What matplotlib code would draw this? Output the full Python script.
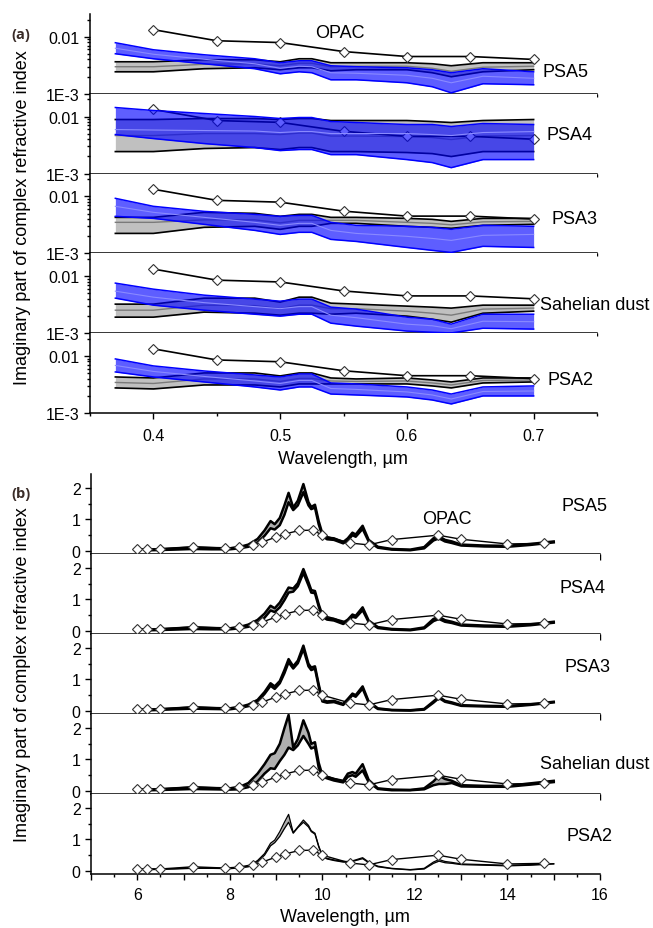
"""Imaginary part of the complex refractive index: visible (a) and thermal IR (b)."""

import matplotlib
matplotlib.use("Agg")
import matplotlib.pyplot as plt
from matplotlib.ticker import MultipleLocator, LogLocator, FuncFormatter, NullFormatter

plt.rcParams["font.family"] = ["Liberation Sans", "DejaVu Sans"]

SAMPLES = ["PSA5", "PSA4", "PSA3", "Sahelian dust", "PSA2"]

# ---- panel (a): visible range -------------------------------------------
WL_A = [0.37, 0.40, 0.44, 0.48, 0.50, 0.515, 0.525, 0.54, 0.56, 0.60, 0.62, 0.635, 0.66, 0.70]
OPAC_WL_A = [0.40, 0.45, 0.50, 0.55, 0.60, 0.65, 0.70]
OPAC_K_A = [0.0133, 0.0085, 0.0079, 0.0055, 0.0045, 0.0045, 0.0040]

PSA5_GRAY_HI = [0.00364, 0.00364, 0.00395, 0.00395, 0.00364, 0.00411, 0.00411, 0.00350, 0.00350, 0.00350, 0.00336, 0.00310, 0.00350, 0.00350]
PSA5_GRAY_MID = [0.00298, 0.00298, 0.00329, 0.00336, 0.00310, 0.00343, 0.00343, 0.00298, 0.00304, 0.00304, 0.00280, 0.00248, 0.00292, 0.00304]
PSA5_GRAY_LO = [0.00243, 0.00243, 0.00275, 0.00286, 0.00264, 0.00286, 0.00286, 0.00253, 0.00264, 0.00264, 0.00234, 0.00199, 0.00243, 0.00264]
PSA5_BLUE_HI = [0.00785, 0.00591, 0.00483, 0.00411, 0.00350, 0.00379, 0.00379, 0.00310, 0.00298, 0.00286, 0.00264, 0.00234, 0.00275, 0.00243]
PSA5_BLUE_MID = [0.00628, 0.00493, 0.00403, 0.00336, 0.00280, 0.00304, 0.00298, 0.00234, 0.00229, 0.00211, 0.00187, 0.00156, 0.00203, 0.00187]
PSA5_BLUE_LO = [0.00503, 0.00411, 0.00336, 0.00275, 0.00224, 0.00243, 0.00234, 0.00176, 0.00176, 0.00156, 0.00133, 0.00104, 0.00150, 0.00144]

PSA4_GRAY_HI = [0.00886, 0.00886, 0.00922, 0.00922, 0.00886, 0.00922, 0.00922, 0.00851, 0.00851, 0.00851, 0.00817, 0.00785, 0.00851, 0.00886]
PSA4_GRAY_MID = [0.00464, 0.00464, 0.00503, 0.00503, 0.00483, 0.00513, 0.00513, 0.00455, 0.00455, 0.00446, 0.00428, 0.00395, 0.00455, 0.00464]
PSA4_GRAY_LO = [0.00243, 0.00243, 0.00275, 0.00286, 0.00264, 0.00286, 0.00286, 0.00243, 0.00243, 0.00234, 0.00224, 0.00199, 0.00243, 0.00243]
PSA4_BLUE_HI = [0.01438, 0.01274, 0.01129, 0.01000, 0.00922, 0.00960, 0.00960, 0.00817, 0.00785, 0.00724, 0.00724, 0.00668, 0.00754, 0.00724]
PSA4_BLUE_MID = [0.00591, 0.00580, 0.00568, 0.00557, 0.00524, 0.00545, 0.00545, 0.00503, 0.00503, 0.00503, 0.00483, 0.00464, 0.00524, 0.00545]
PSA4_BLUE_LO = [0.00483, 0.00411, 0.00336, 0.00286, 0.00253, 0.00264, 0.00264, 0.00215, 0.00215, 0.00176, 0.00156, 0.00127, 0.00176, 0.00176]

PSA3_GRAY_HI = [0.00428, 0.00428, 0.00524, 0.00503, 0.00446, 0.00483, 0.00483, 0.00428, 0.00428, 0.00411, 0.00395, 0.00364, 0.00411, 0.00411]
PSA3_GRAY_MID = [0.00350, 0.00350, 0.00387, 0.00387, 0.00343, 0.00379, 0.00379, 0.00379, 0.00379, 0.00350, 0.00336, 0.00316, 0.00357, 0.00364]
PSA3_GRAY_LO = [0.00224, 0.00224, 0.00286, 0.00298, 0.00264, 0.00298, 0.00298, 0.00336, 0.00336, 0.00298, 0.00286, 0.00275, 0.00310, 0.00323]
PSA3_BLUE_HI = [0.00922, 0.00668, 0.00545, 0.00483, 0.00446, 0.00464, 0.00464, 0.00350, 0.00310, 0.00298, 0.00286, 0.00264, 0.00310, 0.00298]
PSA3_BLUE_MID = [0.00668, 0.00524, 0.00428, 0.00350, 0.00310, 0.00336, 0.00336, 0.00253, 0.00224, 0.00199, 0.00183, 0.00169, 0.00207, 0.00215]
PSA3_BLUE_LO = [0.00446, 0.00411, 0.00323, 0.00253, 0.00215, 0.00234, 0.00234, 0.00176, 0.00162, 0.00127, 0.00113, 0.00104, 0.00133, 0.00127]

SAHEL_GRAY_HI = [0.00323, 0.00323, 0.00411, 0.00411, 0.00350, 0.00428, 0.00428, 0.00336, 0.00323, 0.00298, 0.00286, 0.00275, 0.00310, 0.00310]
SAHEL_GRAY_MID = [0.00253, 0.00253, 0.00310, 0.00304, 0.00269, 0.00310, 0.00310, 0.00269, 0.00269, 0.00243, 0.00224, 0.00207, 0.00264, 0.00275]
SAHEL_GRAY_LO = [0.00191, 0.00191, 0.00234, 0.00224, 0.00207, 0.00224, 0.00224, 0.00215, 0.00224, 0.00199, 0.00176, 0.00156, 0.00224, 0.00243]
SAHEL_BLUE_HI = [0.00754, 0.00591, 0.00464, 0.00395, 0.00364, 0.00395, 0.00395, 0.00286, 0.00264, 0.00191, 0.00176, 0.00144, 0.00215, 0.00215]
SAHEL_BLUE_MID = [0.00545, 0.00428, 0.00343, 0.00292, 0.00269, 0.00292, 0.00292, 0.00207, 0.00187, 0.00144, 0.00135, 0.00120, 0.00162, 0.00159]
SAHEL_BLUE_LO = [0.00411, 0.00310, 0.00253, 0.00215, 0.00199, 0.00215, 0.00215, 0.00150, 0.00133, 0.00109, 0.00104, 0.00101, 0.00122, 0.00118]

PSA2_GRAY_HI = [0.00428, 0.00411, 0.00503, 0.00503, 0.00446, 0.00503, 0.00503, 0.00411, 0.00395, 0.00411, 0.00379, 0.00350, 0.00411, 0.00411]
PSA2_GRAY_MID = [0.00343, 0.00329, 0.00395, 0.00395, 0.00357, 0.00403, 0.00403, 0.00364, 0.00357, 0.00364, 0.00336, 0.00310, 0.00372, 0.00379]
PSA2_GRAY_LO = [0.00275, 0.00264, 0.00310, 0.00310, 0.00286, 0.00323, 0.00323, 0.00323, 0.00323, 0.00323, 0.00298, 0.00275, 0.00336, 0.00350]
PSA2_BLUE_HI = [0.00886, 0.00668, 0.00545, 0.00464, 0.00428, 0.00483, 0.00483, 0.00336, 0.00323, 0.00286, 0.00253, 0.00215, 0.00286, 0.00298]
PSA2_BLUE_MID = [0.00681, 0.00535, 0.00437, 0.00364, 0.00329, 0.00372, 0.00372, 0.00269, 0.00259, 0.00234, 0.00207, 0.00176, 0.00238, 0.00243]
PSA2_BLUE_LO = [0.00524, 0.00428, 0.00350, 0.00286, 0.00253, 0.00286, 0.00286, 0.00215, 0.00207, 0.00191, 0.00169, 0.00144, 0.00199, 0.00199]

# ---- panel (b): thermal infrared ---------------------------------------
WL_B = [6.3, 6.8, 7.2, 7.6, 8.0, 8.2, 8.4, 8.6, 8.75, 8.88, 8.97, 9.08, 9.18, 9.27, 9.37,
        9.47, 9.59, 9.70, 9.76, 9.84, 9.92, 10.0, 10.1, 10.25, 10.45, 10.55, 10.65, 10.72,
        10.87, 11.0, 11.2, 11.5, 11.9, 12.2, 12.4, 12.52, 12.65, 12.8, 13.0, 13.5, 14.0, 14.5, 15.0]
OPAC_WL_B = [6.0, 6.2, 6.5, 7.2, 7.9, 8.2, 8.5, 8.7, 9.0, 9.2, 9.5, 9.8, 10.0, 10.6, 11.0,
             11.5, 12.5, 13.0, 14.0, 14.8]
OPAC_K_B = [0.06, 0.07, 0.06, 0.13, 0.09, 0.12, 0.20, 0.28, 0.44, 0.54, 0.65, 0.66, 0.50, 0.25,
            0.19, 0.36, 0.50, 0.37, 0.22, 0.24]

PSA5_HI_B = [0.04, 0.08, 0.11, 0.09, 0.08, 0.12, 0.20, 0.38, 0.65, 0.95, 0.85, 1.05, 1.45, 1.85, 1.38,
             1.60, 2.13, 1.55, 1.40, 1.47, 0.95, 0.55, 0.42, 0.40, 0.28, 0.40, 0.58, 0.52,
             0.80, 0.35, 0.13, 0.06, 0.04, 0.12, 0.40, 0.47, 0.35, 0.30, 0.20, 0.17, 0.16, 0.22, 0.30]
PSA5_LO_B = [0.02, 0.04, 0.06, 0.05, 0.05, 0.08, 0.13, 0.27, 0.48, 0.72, 0.68, 0.82, 1.15, 1.55, 1.30,
             1.45, 1.87, 1.45, 1.33, 1.38, 0.85, 0.48, 0.37, 0.35, 0.24, 0.34, 0.50, 0.45,
             0.70, 0.30, 0.10, 0.04, 0.02, 0.08, 0.33, 0.40, 0.30, 0.25, 0.17, 0.14, 0.13, 0.19, 0.27]
PSA4_HI_B = [0.04, 0.08, 0.11, 0.09, 0.08, 0.12, 0.20, 0.35, 0.55, 0.80, 0.72, 0.90, 1.15, 1.38, 1.35,
             1.52, 1.97, 1.55, 1.30, 1.27, 0.85, 0.50, 0.40, 0.38, 0.26, 0.36, 0.52, 0.48,
             0.75, 0.33, 0.12, 0.06, 0.04, 0.11, 0.38, 0.45, 0.34, 0.29, 0.20, 0.17, 0.16, 0.21, 0.29]
PSA4_LO_B = [0.02, 0.04, 0.06, 0.05, 0.05, 0.08, 0.13, 0.25, 0.42, 0.65, 0.60, 0.75, 0.98, 1.22, 1.25,
             1.42, 1.85, 1.45, 1.22, 1.20, 0.78, 0.45, 0.36, 0.33, 0.22, 0.31, 0.45, 0.42,
             0.66, 0.28, 0.09, 0.04, 0.02, 0.08, 0.31, 0.38, 0.29, 0.25, 0.17, 0.14, 0.13, 0.18, 0.26]
PSA3_HI_B = [0.04, 0.08, 0.11, 0.09, 0.08, 0.12, 0.20, 0.35, 0.60, 0.88, 0.78, 0.95, 1.30, 1.65, 1.42,
             1.60, 2.08, 1.50, 1.38, 1.42, 0.85, 0.35, 0.30, 0.32, 0.22, 0.38, 0.55, 0.50,
             0.78, 0.30, 0.08, 0.03, 0.02, 0.06, 0.30, 0.45, 0.32, 0.27, 0.18, 0.16, 0.15, 0.21, 0.29]
PSA3_LO_B = [0.02, 0.05, 0.07, 0.06, 0.05, 0.09, 0.15, 0.30, 0.54, 0.80, 0.70, 0.88, 1.20, 1.55, 1.35,
             1.52, 1.97, 1.42, 1.30, 1.35, 0.78, 0.30, 0.26, 0.28, 0.19, 0.34, 0.50, 0.45,
             0.71, 0.26, 0.06, 0.02, 0.01, 0.04, 0.26, 0.41, 0.29, 0.24, 0.16, 0.14, 0.13, 0.19, 0.27]
SAHEL_HI_B = [0.04, 0.08, 0.11, 0.09, 0.08, 0.12, 0.25, 0.55, 0.85, 1.15, 1.20, 1.50, 2.00, 2.42, 1.38,
              1.65, 2.25, 1.85, 1.50, 1.55, 0.90, 0.50, 0.45, 0.38, 0.32, 0.55, 0.60, 0.55,
              0.85, 0.35, 0.08, 0.04, 0.03, 0.08, 0.30, 0.48, 0.38, 0.32, 0.18, 0.16, 0.16, 0.24, 0.32]
SAHEL_LO_B = [0.02, 0.04, 0.06, 0.05, 0.04, 0.05, 0.12, 0.30, 0.55, 0.72, 0.70, 0.95, 1.15, 1.38, 1.30,
              1.45, 1.75, 1.50, 1.35, 1.40, 0.75, 0.45, 0.40, 0.33, 0.27, 0.45, 0.50, 0.45,
              0.65, 0.28, 0.06, 0.02, 0.02, 0.05, 0.18, 0.22, 0.22, 0.25, 0.14, 0.13, 0.13, 0.20, 0.28]
PSA2_HI_B = [0.05, 0.07, 0.10, 0.09, 0.08, 0.10, 0.15, 0.33, 0.55, 0.88, 0.98, 1.25, 1.55, 1.80, 1.22,
             1.40, 1.62, 1.45, 1.28, 1.20, 0.80, 0.48, 0.40, 0.35, 0.30, 0.30, 0.32, 0.35,
             0.42, 0.28, 0.15, 0.08, 0.04, 0.08, 0.28, 0.36, 0.30, 0.27, 0.22, 0.20, 0.18, 0.20, 0.23]
PSA2_LO_B = [0.04, 0.06, 0.08, 0.08, 0.07, 0.09, 0.13, 0.30, 0.50, 0.80, 0.90, 1.10, 1.35, 1.55, 1.20,
             1.38, 1.55, 1.40, 1.25, 1.17, 0.77, 0.46, 0.38, 0.33, 0.28, 0.28, 0.30, 0.33,
             0.39, 0.26, 0.13, 0.07, 0.03, 0.06, 0.24, 0.31, 0.26, 0.24, 0.20, 0.18, 0.16, 0.18, 0.22]

VIS_SETS = [
    (PSA5_GRAY_LO, PSA5_GRAY_MID, PSA5_GRAY_HI, PSA5_BLUE_LO, PSA5_BLUE_MID, PSA5_BLUE_HI),
    (PSA4_GRAY_LO, PSA4_GRAY_MID, PSA4_GRAY_HI, PSA4_BLUE_LO, PSA4_BLUE_MID, PSA4_BLUE_HI),
    (PSA3_GRAY_LO, PSA3_GRAY_MID, PSA3_GRAY_HI, PSA3_BLUE_LO, PSA3_BLUE_MID, PSA3_BLUE_HI),
    (SAHEL_GRAY_LO, SAHEL_GRAY_MID, SAHEL_GRAY_HI, SAHEL_BLUE_LO, SAHEL_BLUE_MID, SAHEL_BLUE_HI),
    (PSA2_GRAY_LO, PSA2_GRAY_MID, PSA2_GRAY_HI, PSA2_BLUE_LO, PSA2_BLUE_MID, PSA2_BLUE_HI),
]
IR_SETS = [
    (PSA5_LO_B, PSA5_HI_B),
    (PSA4_LO_B, PSA4_HI_B),
    (PSA3_LO_B, PSA3_HI_B),
    (SAHEL_LO_B, SAHEL_HI_B),
    (PSA2_LO_B, PSA2_HI_B),
]

# label placement (axes fraction: left x, centre y)
VIS_LABEL_POS = [(0.893, 0.28), (0.901, 0.49), (0.911, 0.44), (0.887, 0.36), (0.903, 0.425)]
IR_LABEL_POS = [(0.925, 0.60), (0.921, 0.58), (0.931, 0.60), (0.883, 0.375), (0.935, 0.475)]

W, H = 653, 929


def px_axes(fig, left, top, right, bottom):
    return fig.add_axes([left / W, 1 - bottom / H, (right - left) / W, (bottom - top) / H])


def style_axes(ax):
    for side in ("top", "right"):
        ax.spines[side].set_visible(False)
    for side in ("left", "bottom"):
        ax.spines[side].set_linewidth(1.1)
    ax.tick_params(which="both", direction="out", width=1.0, labelsize=11.5, pad=3)
    ax.tick_params(which="major", length=4.5)
    ax.tick_params(which="minor", length=2.5)


def vis_label(v, pos):
    if abs(v - 0.01) < 1e-6:
        return "0.01"
    if abs(v - 0.001) < 1e-7:
        return "1E-3"
    return ""


def ir_xlabel(v, pos):
    iv = int(round(v))
    return str(iv) if abs(v - iv) < 1e-6 and iv % 2 == 0 else ""


def main() -> None:
    fig = plt.figure(figsize=(W / 100, H / 100), dpi=100)

    # ---- (a) ----
    for i, name in enumerate(SAMPLES):
        top = 15 + 79.8 * i
        ax = px_axes(fig, 90, top, 597, top + 79.8)
        style_axes(ax)
        g_lo, g_mid, g_hi, b_lo, b_mid, b_hi = VIS_SETS[i]
        ax.fill_between(WL_A, g_lo, g_hi, color="#c0c0c0", lw=0, zorder=1)
        ax.plot(WL_A, g_hi, color="black", lw=1.2, zorder=2)
        ax.plot(WL_A, g_lo, color="black", lw=1.2, zorder=2)
        ax.plot(WL_A, g_mid, color="#7a7a7a", lw=1.0, zorder=2)
        ax.plot(OPAC_WL_A, OPAC_K_A, color="black", lw=1.2, marker="D", ms=5.4,
                mfc="white", mec="#333333", mew=0.8, zorder=3)
        ax.fill_between(WL_A, b_lo, b_hi, color="#0000ff", alpha=0.63, lw=0, zorder=4)
        ax.plot(WL_A, b_hi, color="#0000ff", lw=1.1, zorder=5)
        ax.plot(WL_A, b_lo, color="#0000ff", lw=1.1, zorder=5)
        ax.plot(WL_A, b_mid, color="#8a8aff", lw=0.8, zorder=5)

        ax.set_yscale("log")
        ax.set_ylim(1e-3, 0.025)
        ax.set_xlim(0.35, 0.75)
        ax.yaxis.set_major_locator(LogLocator(base=10))
        ax.yaxis.set_minor_locator(LogLocator(base=10, subs=range(2, 10)))
        ax.yaxis.set_major_formatter(FuncFormatter(vis_label))
        ax.yaxis.set_minor_formatter(NullFormatter())
        ax.xaxis.set_major_locator(MultipleLocator(0.1))
        ax.xaxis.set_minor_locator(MultipleLocator(0.05))
        if i < 4:
            ax.tick_params(axis="x", labelbottom=False)
        else:
            ax.xaxis.set_major_formatter(FuncFormatter(lambda v, p: f"{v:.1f}"))
            ax.tick_params(axis="x", pad=6)

        lx, ly = VIS_LABEL_POS[i]
        ax.text(lx, ly, name, transform=ax.transAxes, ha="left", va="center",
                fontsize=13, clip_on=False, zorder=10)
        if i == 0:
            ax.text(0.493, 0.77, "OPAC", transform=ax.transAxes, ha="center",
                    va="center", fontsize=13, zorder=10)

    # ---- (b) ----
    for i, name in enumerate(SAMPLES):
        top = 475 + 80 * i
        ax = px_axes(fig, 91, top, 600, top + 80)
        style_axes(ax)
        lo, hi = IR_SETS[i]
        lw = 0.9 if name == "PSA2" else 1.8
        ax.fill_between(WL_B, lo, hi, color="#b0b0b0", lw=0, zorder=1)
        ax.plot(WL_B, hi, color="black", lw=lw, zorder=2)
        ax.plot(WL_B, lo, color="black", lw=lw, zorder=2)
        ax.plot(OPAC_WL_B, OPAC_K_B, color="black", lw=1.0, marker="D", ms=5.0,
                mfc="white", mec="#333333", mew=0.8, zorder=3)

        ax.set_xlim(5, 16)
        ax.set_ylim(-0.1, 2.45)
        ax.yaxis.set_major_locator(MultipleLocator(1))
        ax.yaxis.set_minor_locator(MultipleLocator(0.5))
        ax.xaxis.set_major_locator(MultipleLocator(1))
        ax.xaxis.set_minor_locator(MultipleLocator(0.5))
        if i < 4:
            ax.tick_params(axis="x", labelbottom=False)
        else:
            ax.xaxis.set_major_formatter(FuncFormatter(ir_xlabel))
            ax.tick_params(axis="x", pad=5)

        lx, ly = IR_LABEL_POS[i]
        ax.text(lx, ly, name, transform=ax.transAxes, ha="left", va="center",
                fontsize=13, clip_on=False, zorder=10)
        if i == 0:
            ax.text(0.70, 0.44, "OPAC", transform=ax.transAxes, ha="center",
                    va="center", fontsize=13, zorder=10)

    ylab = "Imaginary part of complex refractive index"
    fig.text(23 / W, 1 - 218 / H, ylab, rotation=90, ha="center", va="center", fontsize=13)
    fig.text(23 / W, 1 - 675 / H, ylab, rotation=90, ha="center", va="center", fontsize=13)
    fig.text(343 / W, 1 - 460 / H, "Wavelength, µm", ha="center", va="center", fontsize=13)
    fig.text(345 / W, 1 - 918 / H, "Wavelength, µm", ha="center", va="center", fontsize=13)
    for y, tag in ((35, "(a)"), (494, "(b)")):
        fig.text(21 / W, 1 - y / H, tag, ha="center", va="center", fontsize=10.5,
                 fontweight="bold", family=["Open Sans", "DejaVu Sans"], color="#3a2c28")

    fig.savefig("out.png", dpi=100)
    plt.close(fig)


if __name__ == "__main__":
    main()
